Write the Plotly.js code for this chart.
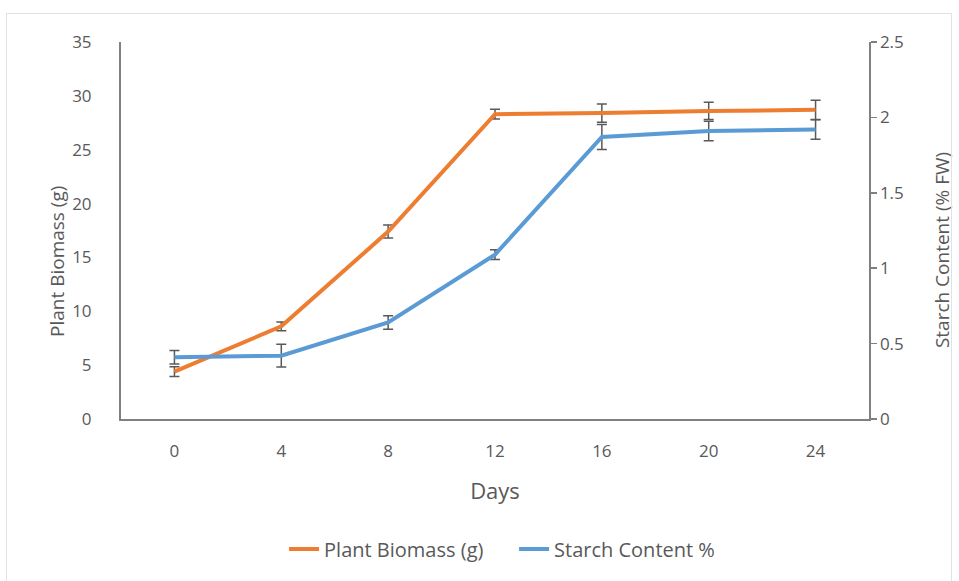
<!DOCTYPE html>
<html>
<head>
<meta charset="utf-8">
<script src="https://cdn.plot.ly/plotly-3.0.1.min.js"></script>
<style>
  html, body { margin: 0; padding: 0; background: #ffffff; }
  #wrap { position: relative; width: 959px; height: 581px; }
  #chart { width: 959px; height: 581px; }
  #frame { position: absolute; left: 6px; top: 13px; width: 946px; height: 570px;
           border: 1px solid #e2e2e2; pointer-events: none; box-sizing: border-box; }
</style>
</head>
<body>
<div id="wrap">
  <div id="chart"></div>
  <div id="frame"></div>
</div>
<script>
// Sampling days
const days = [0, 4, 8, 12, 16, 20, 24];
const dayLabels = ['0', '4', '8', '12', '16', '20', '24'];

// Plant biomass (g) with error
const biomass = [4.4, 8.6, 17.4, 28.3, 28.4, 28.6, 28.7];
const biomassErr = [0.45, 0.4, 0.6, 0.45, 0.85, 0.8, 0.9];

// Starch content (% FW) with error
const starch = [0.41, 0.42, 0.64, 1.09, 1.87, 1.91, 1.92];
const starchErr = [0.045, 0.075, 0.045, 0.033, 0.083, 0.065, 0.065];

const textColor = '#595959';
const axisColor = '#808080';
const fontFamily = 'Open Sans, Noto Sans, sans-serif';

const traces = [
  {
    x: days, y: biomass, name: 'Plant Biomass (g)', type: 'scatter', mode: 'lines',
    line: { color: '#ED7D31', width: 4 },
    error_y: { type: 'data', array: biomassErr, visible: true, color: '#595959', thickness: 1.5, width: 5 },
    yaxis: 'y'
  },
  {
    x: days, y: starch, name: 'Starch Content %', type: 'scatter', mode: 'lines',
    line: { color: '#5B9BD5', width: 4 },
    error_y: { type: 'data', array: starchErr, visible: true, color: '#595959', thickness: 1.5, width: 5 },
    yaxis: 'y2'
  }
];

const layout = {
  width: 959, height: 581,
  margin: { l: 121, r: 90, t: 42, b: 162 },
  paper_bgcolor: '#ffffff', plot_bgcolor: '#ffffff',
  font: { family: fontFamily, color: textColor, size: 16 },
  showlegend: true,
  legend: {
    orientation: 'h', x: 0.218, xanchor: 'left', y: -0.345, yanchor: 'middle',
    font: { size: 20, color: textColor }, traceorder: 'normal',
    itemwidth: 30, entrywidth: 185, entrywidthmode: 'pixels'
  },
  xaxis: {
    range: [-2, 26], tickmode: 'array', tickvals: days, ticktext: dayLabels,
    showgrid: false, zeroline: false, showline: true, linecolor: axisColor, linewidth: 2,
    ticks: '', ticklabelstandoff: 16, tickfont: { size: 17, color: textColor },
    title: { text: 'Days', font: { size: 22, color: textColor }, standoff: 22 }
  },
  yaxis: {
    range: [0, 35], dtick: 5, showgrid: false, zeroline: false,
    showline: true, linecolor: axisColor, linewidth: 2, ticks: '',
    ticklabelstandoff: 24, tickfont: { size: 17, color: textColor }
  },
  yaxis2: {
    range: [0, 2.5], dtick: 0.5, overlaying: 'y', side: 'right',
    showgrid: false, zeroline: false, showline: true, linecolor: axisColor, linewidth: 1.5,
    ticks: 'outside', ticklen: 6, tickwidth: 1.5, tickcolor: axisColor,
    tickfont: { size: 17, color: textColor }
  },
  // Vertical axis titles, placed beside each axis
  annotations: [
    {
      text: 'Plant Biomass (g)', textangle: -90, showarrow: false,
      xref: 'paper', yref: 'paper', x: -0.0856, y: 0.419, xanchor: 'center', yanchor: 'middle',
      font: { size: 19, color: textColor }
    },
    {
      text: 'Starch Content (% FW)', textangle: -90, showarrow: false,
      xref: 'paper', yref: 'paper', x: 1.0976, y: 0.448, xanchor: 'center', yanchor: 'middle',
      font: { size: 19, color: textColor }
    }
  ]
};

Plotly.newPlot('chart', traces, layout, { displayModeBar: false, staticPlot: true });
</script>
</body>
</html>
